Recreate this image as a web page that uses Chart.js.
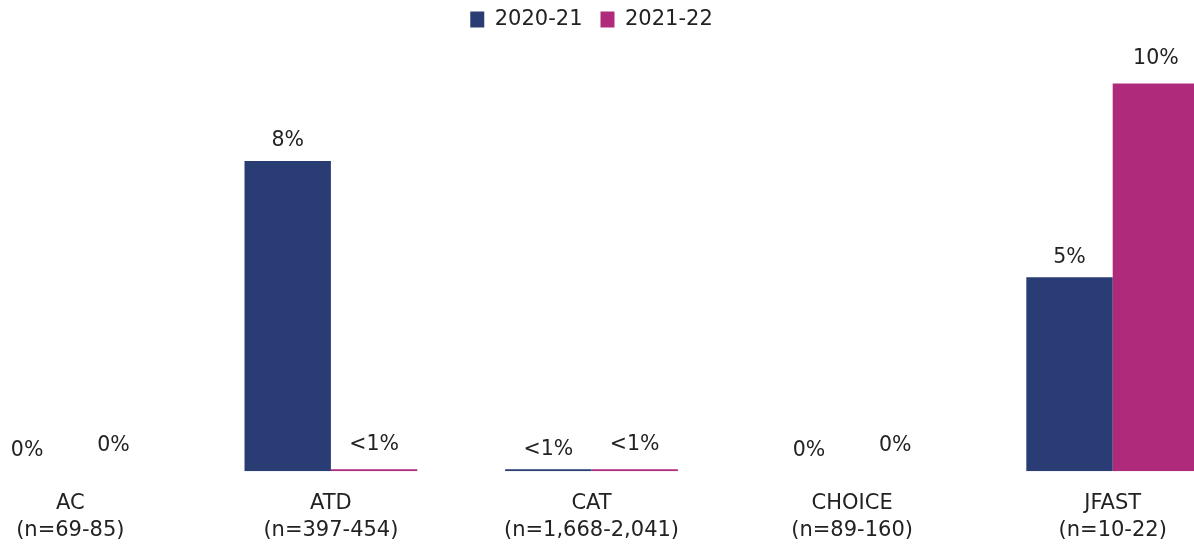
<!DOCTYPE html>
<html>
<head>
<meta charset="utf-8">
<script src="https://cdn.jsdelivr.net/npm/chart.js@4"></script>
<style>
  html, body { margin: 0; padding: 0; background: #fff; overflow: hidden; }
  #frame { position: relative; width: 1194px; height: 545px; overflow: hidden; }
  #wrap { position: absolute; left: -60px; top: 0; width: 1340px; height: 555px; }
</style>
</head>
<body>
<div id="frame"><div id="wrap"><canvas id="chart" width="1340" height="555"></canvas></div></div>
<script>
const categories = [
  ['AC', '(n=69-85)'],
  ['ATD', '(n=397-454)'],
  ['CAT', '(n=1,668-2,041)'],
  ['CHOICE', '(n=89-160)'],
  ['JFAST', '(n=10-22)']
];
const series2021 = [0, 8, 0.05, 0, 5];
const series2122 = [0, 0.05, 0.05, 0, 10];
const labels2021 = ['0%', '8%', '<1%', '0%', '5%'];
const labels2122 = ['0%', '<1%', '<1%', '0%', '10%'];

const FONT = '"DejaVu Sans", sans-serif';
const TEXT = '#222';

// draws the value text above each bar
const valueLabels = {
  id: 'valueLabels',
  afterDatasetsDraw(chart) {
    const c = chart.ctx;
    c.save();
    c.font = '20.5px ' + FONT;
    c.fillStyle = TEXT;
    c.textAlign = 'center';
    c.textBaseline = 'middle';
    chart.data.datasets.forEach((ds, i) => {
      const meta = chart.getDatasetMeta(i);
      const lift = i === 0 ? 20 : 25;
      meta.data.forEach((bar, j) => {
        c.fillText(ds.valueText[j], bar.x, bar.y - lift);
      });
    });
    c.restore();
  }
};

new Chart(document.getElementById('chart').getContext('2d'), {
  type: 'bar',
  data: {
    labels: categories,
    datasets: [
      { label: '2020-21', data: series2021, valueText: labels2021, backgroundColor: '#293C74' },
      { label: '2021-22', data: series2122, valueText: labels2122, backgroundColor: '#AF2A7B' }
    ]
  },
  options: {
    animation: false,
    responsive: false,
    layout: { padding: { left: 0, right: 37, top: -9, bottom: 0 } },
    datasets: { bar: { categoryPercentage: 0.663, barPercentage: 1.0 } },
    scales: {
      x: {
        grid: { display: false },
        border: { display: false },
        ticks: { color: TEXT, font: { family: FONT, size: 21, lineHeight: 1.33 }, padding: 10 }
      },
      y: { display: false, min: 0, max: 11.12 }
    },
    plugins: {
      legend: {
        position: 'top',
        labels: { color: TEXT, font: { family: FONT, size: 21 }, boxWidth: 14, boxHeight: 16, padding: 18 }
      },
      tooltip: { enabled: false }
    }
  },
  plugins: [valueLabels]
});
</script>
</body>
</html>
